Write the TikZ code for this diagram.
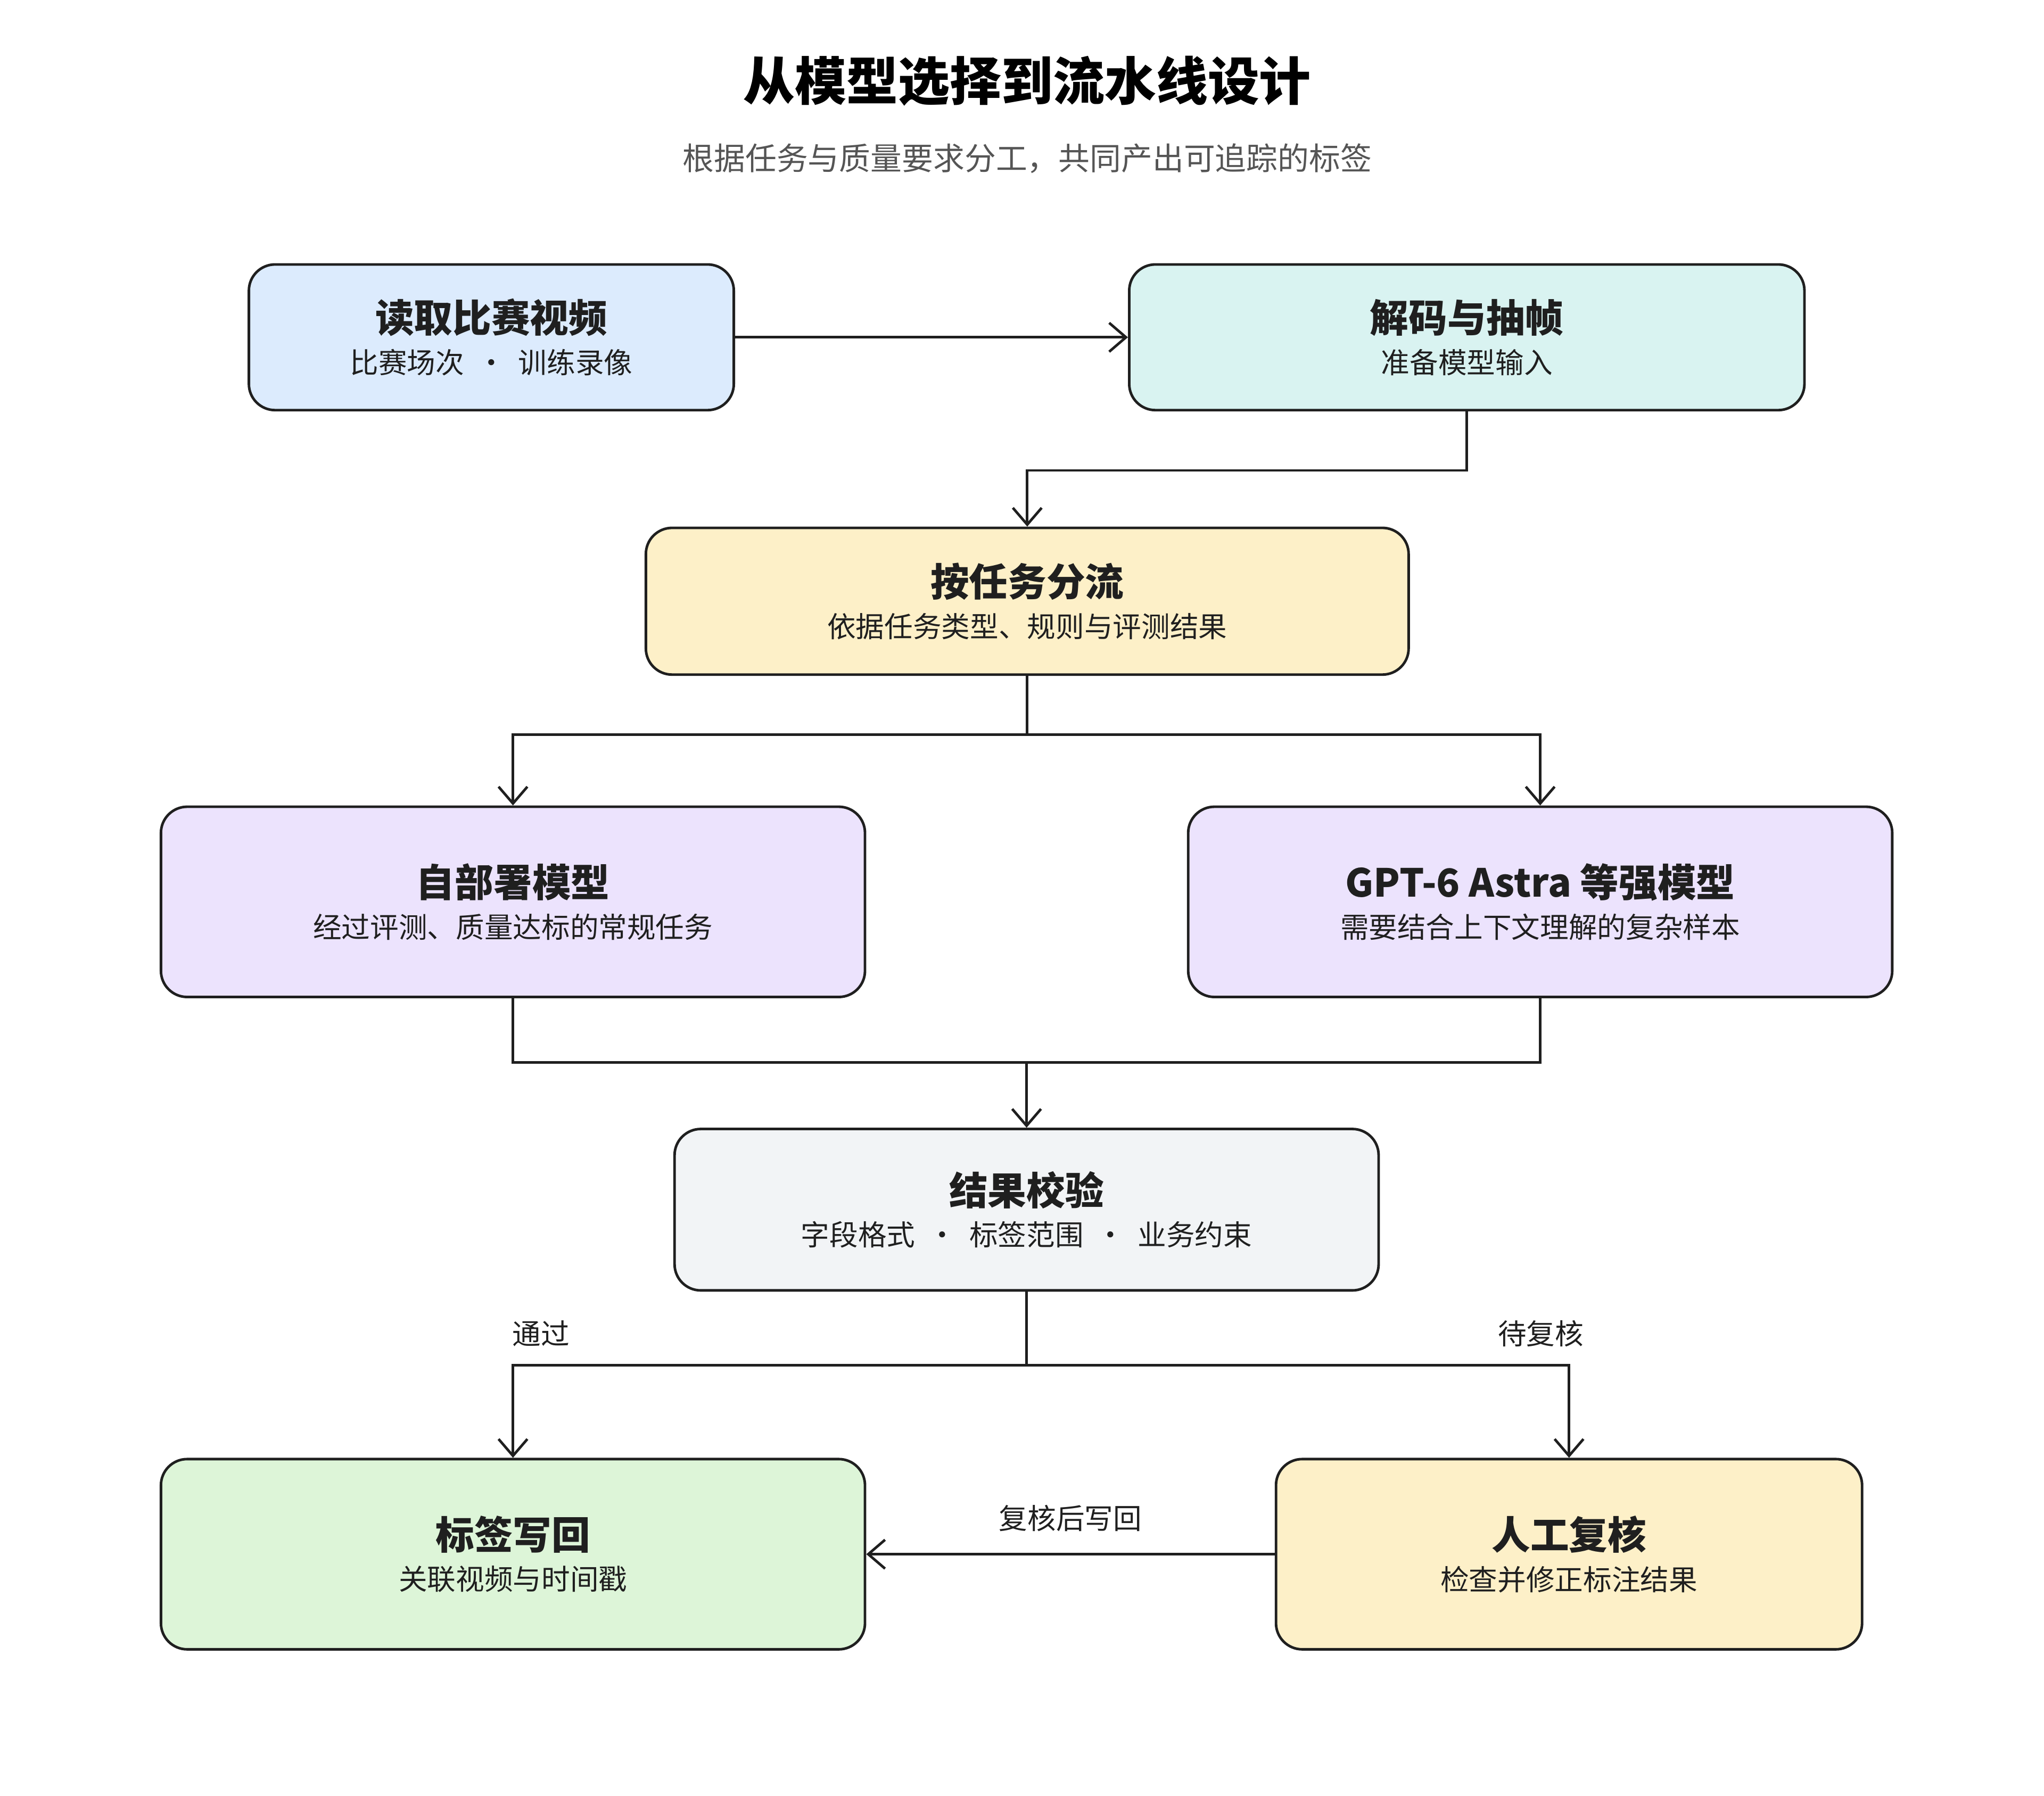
\documentclass[tikz,border=0pt]{standalone}
\usepackage{fontspec}
\setmainfont{Noto Sans CJK SC}
\usetikzlibrary{arrows.meta,positioning}
\definecolor{lineC}{HTML}{1F1F1F}
\definecolor{blueF}{HTML}{DCEBFD}
\definecolor{tealF}{HTML}{D9F3F1}
\definecolor{yellowF}{HTML}{FDF0C8}
\definecolor{purpleF}{HTML}{ECE3FD}
\definecolor{grayF}{HTML}{F2F4F6}
\definecolor{greenF}{HTML}{DDF5D8}
\definecolor{subC}{HTML}{555555}
\newcommand{\ttl}[1]{{\fontsize{21pt}{25pt}\selectfont\bfseries #1}}
\newcommand{\sbt}[1]{{\fontsize{15.5pt}{19pt}\selectfont #1}}
\tikzset{
  stepbox/.style={
    % The shape:
    rectangle, rounded corners=0.5cm,
    % The border:
    line width=1.4pt, draw=lineC,
    align=center, text=lineC
    },
  flow/.style={line width=1.4pt, draw=lineC, -{Straight Barb[length=3.2mm,width=5.5mm,line width=1.4pt]}},
  edgelabel/.style={font=\fontsize{15.5pt}{19pt}\selectfont, text=lineC},
}
\begin{document}
\begin{tikzpicture}[x=0.025cm,y=-0.025cm]
  \useasboundingbox (0,0) rectangle (1560,1371);
  \node (title) at (784,62) {\fontsize{28pt}{32pt}\selectfont\bfseries 从模型选择到流水线设计};
  \node (subtitle) [text=subC] at (784,121) {\fontsize{17pt}{20pt}\selectfont 根据任务与质量要求分工，共同产出可追踪的标签};

  \node (read)   [stepbox,fill=blueF,minimum width=9.25cm,minimum height=2.78cm] at (375,257.5)
    {\ttl{读取比赛视频}\\[6pt]\sbt{比赛场次 \ · \ 训练录像}};
  \node (decode) [stepbox,fill=tealF,minimum width=12.88cm,minimum height=2.78cm] at (1119.5,257.5)
    {\ttl{解码与抽帧}\\[6pt]\sbt{准备模型输入}};
  \node (route)  [stepbox,fill=yellowF,minimum width=14.55cm,minimum height=2.8cm] at (784,459)
    {\ttl{按任务分流}\\[6pt]\sbt{依据任务类型、规则与评测结果}};
  \node (local)  [stepbox,fill=purpleF,minimum width=13.43cm,minimum height=3.63cm] at (391.5,688.5)
    {\ttl{自部署模型}\\[6pt]\sbt{经过评测、质量达标的常规任务}};
  \node (strong) [stepbox,fill=purpleF,minimum width=13.43cm,minimum height=3.63cm] at (1175.5,688.5)
    {\ttl{GPT-6 Astra 等强模型}\\[6pt]\sbt{需要结合上下文理解的复杂样本}};
  \node (check)  [stepbox,fill=grayF,minimum width=13.43cm,minimum height=3.08cm] at (783.5,923.5)
    {\ttl{结果校验}\\[6pt]\sbt{字段格式 \ · \ 标签范围 \ · \ 业务约束}};
  \node (write)  [stepbox,fill=greenF,minimum width=13.43cm,minimum height=3.63cm] at (391.5,1186.5)
    {\ttl{标签写回}\\[6pt]\sbt{关联视频与时间戳}};
  \node (review) [stepbox,fill=yellowF,minimum width=11.18cm,minimum height=3.63cm] at (1197.5,1186.5)
    {\ttl{人工复核}\\[6pt]\sbt{检查并修正标注结果}};

  \draw[flow] (read.east) -- (decode.west);
  \draw[flow] (decode.south) -- ++(0,45) -| (route.north);
  \draw[flow] (route.south) -- ++(0,45) -| (local.north);
  \draw[flow] (route.south) -- ++(0,45) -| (strong.north);
  \draw[line width=1.4pt,draw=lineC] (local.south) |- (783.5,811) -| (strong.south);
  \draw[flow] (783.5,811) -- (check.north);
  \draw[flow] (check.south) -- ++(0,56) -| (local.north |- write.north);
  \draw[flow] (check.south) -- ++(0,56) -| (review.north);
  \draw[flow] (review.west) -- (write.east);

  \node (pass)   [edgelabel] at (413,1018) {通过};
  \node (hold)   [edgelabel] at (1176,1018) {待复核};
  \node (back)   [edgelabel] at (817,1159) {复核后写回};
\end{tikzpicture}
\end{document}
